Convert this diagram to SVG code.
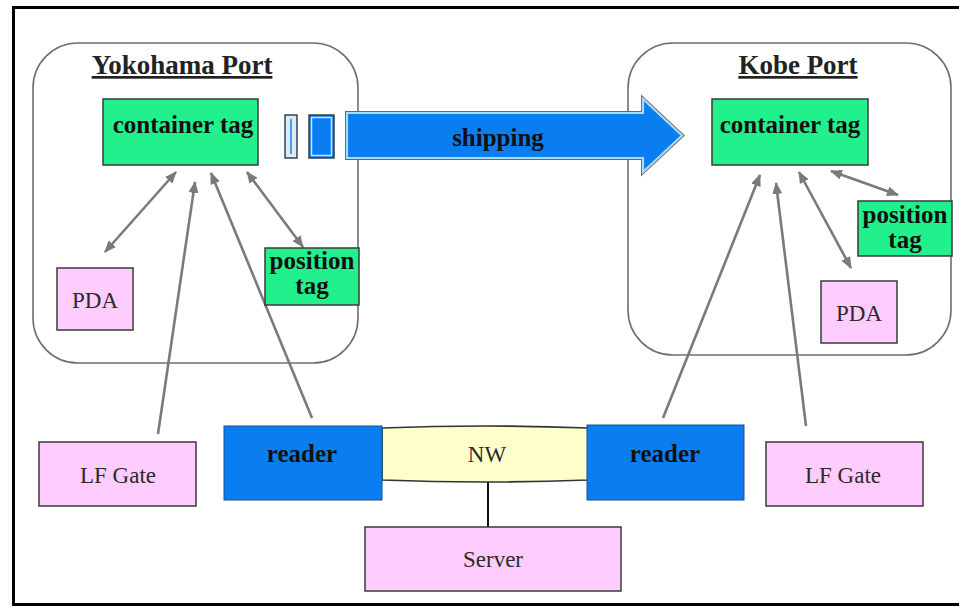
<svg xmlns="http://www.w3.org/2000/svg" width="959" height="609" viewBox="0 0 959 609">
  <defs>
    <style>
      .port { fill: none; stroke: #707070; stroke-width: 1.6; }
      .tag { fill: #22f08c; stroke: #3a3a3a; stroke-width: 1.5; }
      .pink { fill: #ffccff; stroke: #3a3a3a; stroke-width: 1.5; }
      .reader { fill: #0a7ef0; stroke: #1a4f8a; stroke-width: 1; }
      .link { stroke: #7a7a7a; stroke-width: 2.6; fill: none; }
      .bold { font-family: "Liberation Serif", "Times New Roman", serif; font-weight: bold; font-size: 25px; fill: #111; text-anchor: middle; }
      .reg { font-family: "Liberation Serif", "Times New Roman", serif; font-size: 23px; fill: #2a2a2a; text-anchor: middle; }
      .title { font-family: "Liberation Serif", "Times New Roman", serif; font-weight: bold; font-size: 27px; fill: #222; text-anchor: middle; text-decoration: underline; }
    </style>
    <marker id="head" viewBox="0 0 12 10" refX="11" refY="5" markerWidth="12" markerHeight="10" markerUnits="userSpaceOnUse" orient="auto-start-reverse">
      <path d="M0,0 L12,5 L0,10 Z" fill="#7a7a7a"/>
    </marker>
  </defs>

  <rect width="959" height="609" fill="#ffffff"/>
  <!-- outer frame -->
  <rect x="13.5" y="7.5" width="960" height="597" fill="none" stroke="#000" stroke-width="3"/>

  <!-- port areas -->
  <g id="yokohama-port">
    <rect class="port" x="33" y="43" width="325" height="320" rx="45"/>
    <text class="title" x="182" y="74">Yokohama Port</text>
  </g>
  <g id="kobe-port">
    <rect class="port" x="628" y="43" width="323" height="312" rx="45"/>
    <text class="title" x="798" y="74">Kobe Port</text>
  </g>

  <!-- connectors -->
  <g id="connectors">
    <line class="link" x1="105" y1="252" x2="176" y2="172" marker-start="url(#head)" marker-end="url(#head)"/>
    <line class="link" x1="158" y1="434" x2="195" y2="182" marker-end="url(#head)"/>
    <line class="link" x1="312" y1="418" x2="211" y2="173" marker-end="url(#head)"/>
    <line class="link" x1="303" y1="247" x2="247" y2="172" marker-start="url(#head)" marker-end="url(#head)"/>
    <line class="link" x1="663" y1="418" x2="760" y2="175" marker-end="url(#head)"/>
    <line class="link" x1="806" y1="426" x2="776" y2="183" marker-end="url(#head)"/>
    <line class="link" x1="851" y1="268" x2="799" y2="172" marker-start="url(#head)" marker-end="url(#head)"/>
    <line class="link" x1="898" y1="195" x2="831" y2="171" marker-start="url(#head)" marker-end="url(#head)"/>
    <line x1="488" y1="480" x2="488" y2="527" stroke="#111" stroke-width="2"/>
  </g>

  <!-- Yokohama side -->
  <g id="yokohama-container-tag">
    <rect class="tag" x="103" y="99" width="155" height="66"/>
    <text class="bold" x="183" y="133">container tag</text>
  </g>
  <g id="yokohama-position-tag">
    <rect class="tag" x="265" y="248" width="94" height="57"/>
    <text class="bold" x="312" y="269">position</text>
    <text class="bold" x="312" y="294">tag</text>
  </g>
  <g id="yokohama-pda">
    <rect class="pink" x="57" y="268" width="76" height="62"/>
    <text class="reg" x="95" y="308">PDA</text>
  </g>

  <!-- containers on the way -->
  <g id="containers">
    <rect x="285" y="115" width="12" height="43" fill="#d6ecff" stroke="#333" stroke-width="1.4"/>
    <line x1="291" y1="119" x2="291" y2="154" stroke="#2a7fe0" stroke-width="1.5"/>
    <rect x="309" y="115" width="25" height="43" fill="#0a7ef0" stroke="#333" stroke-width="1.4"/>
    <rect x="311.5" y="117.5" width="20" height="38" fill="none" stroke="#bfe6fa" stroke-width="1.5"/>
  </g>

  <g id="shipping">
    <path d="M347,113 L643,113 L643,99 L682,135.5 L643,172 L643,158 L347,158 Z" fill="#0a7ef0" stroke="#666" stroke-width="4" stroke-linejoin="miter"/>
    <path d="M347,113 L643,113 L643,99 L682,135.5 L643,172 L643,158 L347,158 Z" fill="#0a7ef0" stroke="#a6dcf6" stroke-width="2.2"/>
    <text class="bold" x="498" y="146">shipping</text>
  </g>

  <!-- Kobe side -->
  <g id="kobe-container-tag">
    <rect class="tag" x="712" y="99" width="156" height="66"/>
    <text class="bold" x="790" y="133">container tag</text>
  </g>
  <g id="kobe-position-tag">
    <rect class="tag" x="858" y="201" width="94" height="55"/>
    <text class="bold" x="905" y="223">position</text>
    <text class="bold" x="905" y="248">tag</text>
  </g>
  <g id="kobe-pda">
    <rect class="pink" x="821" y="281" width="76" height="62"/>
    <text class="reg" x="859" y="321">PDA</text>
  </g>

  <!-- network row -->
  <g id="nw">
    <path d="M382,428 Q485,424 588,428 L588,480 Q485,484 382,480 Z" fill="#ffffcc" stroke="#333" stroke-width="1.6"/>
    <text class="reg" x="487" y="462">NW</text>
  </g>
  <g id="lf-gate-left">
    <rect class="pink" x="39" y="442" width="157" height="64"/>
    <text class="reg" x="118" y="483">LF Gate</text>
  </g>
  <g id="reader-left">
    <rect class="reader" x="224" y="426" width="158" height="74"/>
    <text class="bold" x="302" y="462">reader</text>
  </g>
  <g id="reader-right">
    <rect class="reader" x="587" y="425" width="157" height="75"/>
    <text class="bold" x="665" y="462">reader</text>
  </g>
  <g id="lf-gate-right">
    <rect class="pink" x="766" y="442" width="157" height="64"/>
    <text class="reg" x="843" y="483">LF Gate</text>
  </g>
  <g id="server">
    <rect class="pink" x="365" y="527" width="256" height="64"/>
    <text class="reg" x="493" y="567">Server</text>
  </g>
</svg>
